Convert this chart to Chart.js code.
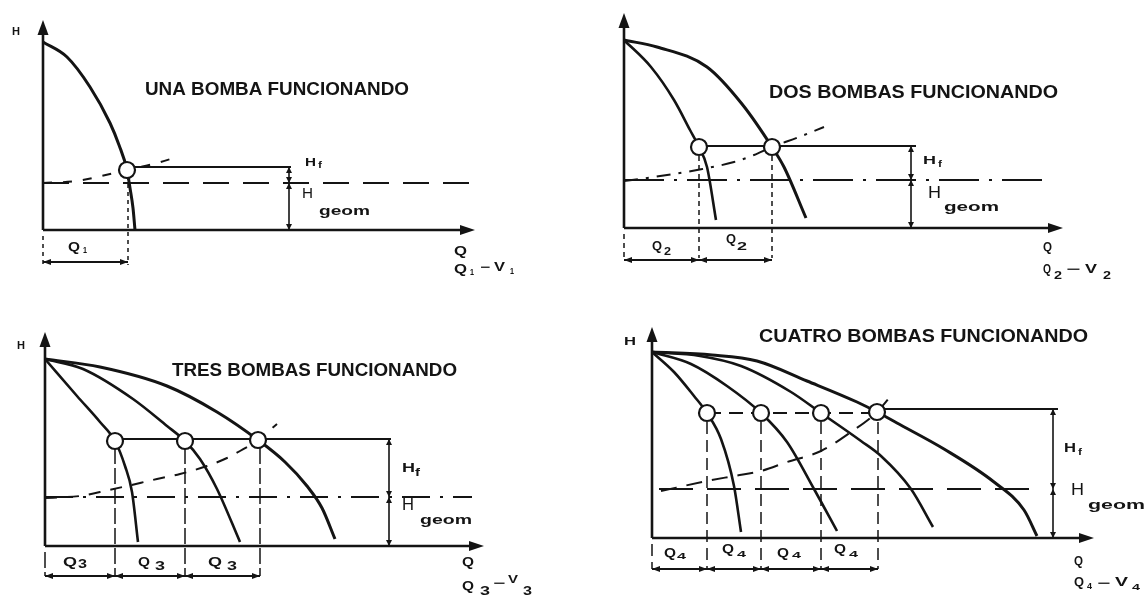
<!DOCTYPE html>
<html><head><meta charset="utf-8">
<script src="https://cdn.jsdelivr.net/npm/chart.js@4/dist/chart.umd.min.js"></script>
<style>
html,body{margin:0;padding:0;background:#fff}
body{width:1148px;height:598px;position:relative;overflow:hidden}
canvas{position:absolute}
</style></head><body>
<canvas id="c1" width="574" height="299" style="left:0;top:0"></canvas>
<canvas id="c2" width="574" height="299" style="left:574px;top:0"></canvas>
<canvas id="c3" width="574" height="299" style="left:0;top:299px"></canvas>
<canvas id="c4" width="574" height="299" style="left:574px;top:299px"></canvas>
<script>
// ---- data (Q, H), arbitrary units ----
const titles = ['UNA BOMBA FUNCIONANDO','DOS BOMBAS FUNCIONANDO','TRES BOMBAS FUNCIONANDO','CUATRO BOMBAS FUNCIONANDO'];

const p1Pump   = [{x:0,y:188},{x:24,y:173},{x:47,y:143},{x:67,y:107},{x:76,y:85},{x:84,y:60},{x:87,y:42},{x:90,y:22},{x:92,y:0}];
const p1System = [{x:0,y:47},{x:34,y:49},{x:54,y:53},{x:84,y:60},{x:114,y:67},{x:134,y:73}];
const p1Ops    = [{x:84,y:60}];
const p1Levels = [47, 63];          // H geom, H top (operating)
const p1QTicks = [0, 85];

const p2PumpA  = [{x:0,y:188},{x:27,y:161},{x:50,y:128},{x:66,y:98},{x:75,y:81},{x:83,y:61},{x:92,y:8}];
const p2PumpB  = [{x:0,y:188},{x:33,y:181},{x:83,y:161},{x:118,y:124},{x:148,y:81},{x:160,y:61},{x:182,y:10}];
const p2System = [{x:0,y:47},{x:30,y:51},{x:73,y:58},{x:110,y:66},{x:130,y:73},{x:148,y:81},{x:175,y:91},{x:200,y:101}];
const p2Ops    = [{x:75,y:81},{x:148,y:81}];
const p2Levels = [48, 82];
const p2QTicks = [0, 75, 148];

const p3PumpA  = [{x:0,y:187},{x:32,y:150},{x:55,y:124},{x:70,y:105},{x:80,y:80},{x:87,y:54},{x:93,y:4}];
const p3PumpB  = [{x:0,y:187},{x:38,y:177},{x:88,y:147},{x:122,y:120},{x:140,y:105},{x:155,y:87},{x:172,y:57},{x:195,y:4}];
const p3PumpC  = [{x:0,y:187},{x:55,y:179},{x:122,y:160},{x:172,y:134},{x:213,y:106},{x:240,y:84},{x:262,y:60},{x:277,y:38},{x:290,y:7}];
const p3System = [{x:0,y:48},{x:35,y:50},{x:55,y:54},{x:82,y:60},{x:112,y:67},{x:135,y:72},{x:162,y:80},{x:182,y:88},{x:195,y:95},{x:213,y:106},{x:232,y:122}];
const p3Ops    = [{x:70,y:105},{x:140,y:105},{x:213,y:106}];
const p3Levels = [49, 107];
const p3QTicks = [0, 70, 140, 215];

const p4PumpA  = [{x:0,y:186},{x:22,y:166},{x:42,y:142},{x:55,y:125},{x:69,y:99},{x:82,y:52},{x:89,y:6}];
const p4PumpB  = [{x:0,y:186},{x:39,y:174},{x:75,y:152},{x:109,y:125},{x:135,y:96},{x:162,y:49},{x:185,y:7}];
const p4PumpC  = [{x:0,y:186},{x:48,y:182},{x:89,y:172},{x:139,y:146},{x:169,y:125},{x:209,y:97},{x:229,y:82},{x:259,y:49},{x:281,y:11}];
const p4PumpD  = [{x:0,y:186},{x:60,y:183},{x:105,y:177},{x:155,y:157},{x:205,y:136},{x:225,y:126},{x:245,y:115},{x:292,y:89},{x:342,y:56},{x:372,y:28},{x:385,y:2}];
const p4System = [{x:9,y:47},{x:55,y:57},{x:82,y:62},{x:109,y:67},{x:135,y:76},{x:169,y:87},{x:199,y:106},{x:225,y:126},{x:242,y:146}];
const p4Ops    = [{x:55,y:125},{x:109,y:125},{x:169,y:125},{x:225,y:126}];
const p4Levels = [49, 129];
const p4QTicks = [0, 55, 109, 169, 226];

// ---- layout / styling ----
const INK = '#141414';
const panels = [
 { id:'c1', pad:{left:43,top:20,right:99,bottom:69}, xmax:432, ymax:210,
   pumps:[p1Pump], system:p1System, sysDash:[9,11], ops:p1Ops, levels:p1Levels, qticks:p1QTicks,
   geomSpan:[0,426], geomDash:[26,14], topSpan:[90,248], topDash:[], betweenDash:null,
   dimQ:246, dropTop:54, dropDash:[4,4], dimH:-32, tickBottom:-35,
   title:[titles[0],102,140,264],
   labels:[['H',-31,198,8,10,'bold'],['H',262,67,11,11,'bold'],['f',275,64,4,9,'bold'],
     ['H',259,36,11,15,'normal'],['geom',276,19,51,13,'bold'],
     ['Q',25,-17,12,13,'bold'],['1',40,-21,4,9,'bold'],
     ['Q',411,-21,13,13,'bold'],
     ['Q',411,-39,13,13,'bold'],['1',427,-43,4,9,'bold'],['−',437,-38,10,12,'bold'],['V',451,-38,11,12,'bold'],['1',467,-42,4,9,'bold']] },
 { id:'c2', pad:{left:50,top:13,right:85,bottom:71}, xmax:439, ymax:215,
   pumps:[p2PumpA,p2PumpB], system:p2System, sysDash:[14,8,3,8], ops:p2Ops, levels:p2Levels, qticks:p2QTicks,
   geomSpan:[0,425], geomDash:[40,10,3,10], topSpan:[75,292], topDash:[], betweenDash:null,
   dimQ:287, dropTop:72, dropDash:[5,4], dimH:-32, tickBottom:-30,
   title:[titles[1],145,135,289],
   labels:[['H',299,67,13,11,'bold'],['f',314,63,4,9,'bold'],
     ['H',304,34,13,16,'normal'],['geom',320,20,55,12,'bold'],
     ['Q',28,-19,10,12,'bold'],['2',40,-24,7,11,'bold'],
     ['Q',102,-12,10,12,'bold'],['2',113,-19,10,11,'bold'],
     ['Q',419,-20,9,12,'bold'],
     ['Q',419,-42,8,12,'bold'],['2',430,-48,8,11,'bold'],['−',442,-42,14,12,'bold'],['V',461,-42,12,12,'bold'],['2',479,-48,8,11,'bold']] },
 { id:'c3', pad:{left:45,top:33,right:90,bottom:52}, xmax:439, ymax:214,
   pumps:[p3PumpA,p3PumpB,p3PumpC], system:p3System, sysDash:[12,10], ops:p3Ops, levels:p3Levels, qticks:p3QTicks,
   geomSpan:[0,427], geomDash:[28,10,3,10], topSpan:[70,346], topDash:[], betweenDash:null,
   dimQ:344, dropTop:98, dropDash:[16,4], dimH:-30, tickBottom:-30,
   title:[titles[2],127,175,285],
   labels:[['H',-28,200,8,10,'bold'],['H',357,78,13,13,'bold'],['f',370,73,5,10,'bold'],
     ['H',357,40,12,16,'normal'],['geom',375,25,52,12,'bold'],
     ['Q',18,-16,14,13,'bold'],['3',33,-19,9,12,'bold'],
     ['Q',93,-16,12,13,'bold'],['3',110,-21,10,12,'bold'],
     ['Q',163,-16,14,13,'bold'],['3',182,-21,10,12,'bold'],
     ['Q',417,-17,12,12,'bold'],
     ['Q',417,-40,12,13,'bold'],['3',435,-46,10,12,'bold'],['−',448,-38,12,12,'bold'],['V',463,-34,10,11,'bold'],['3',478,-46,9,12,'bold']] },
 { id:'c4', pad:{left:78,top:28,right:54,bottom:60}, xmax:442, ymax:211,
   pumps:[p4PumpA,p4PumpB,p4PumpC,p4PumpD], system:p4System, sysDash:[16,10], ops:p4Ops, levels:p4Levels, qticks:p4QTicks,
   geomSpan:[7,391], geomDash:[34,14], topSpan:[225,406], topDash:[], betweenDash:[14,8],
   dimQ:401, dropTop:116, dropDash:[12,6], dimH:-31, tickBottom:-31,
   title:[titles[3],107,201,329],
   labels:[['H',-28,196,12,11,'bold'],['H',412,89,12,12,'bold'],['f',426,85,4,9,'bold'],
     ['H',419,47,13,16,'normal'],['geom',436,33,57,13,'bold'],
     ['Q',12,-15,12,13,'bold'],['4',25,-19,9,9,'bold'],
     ['Q',70,-11,12,13,'bold'],['4',85,-17,9,9,'bold'],
     ['Q',125,-15,12,13,'bold'],['4',140,-18,9,9,'bold'],
     ['Q',182,-11,12,13,'bold'],['4',197,-17,9,9,'bold'],
     ['Q',422,-24,9,12,'bold'],
     ['Q',422,-45,10,12,'bold'],['4',435,-49,5,9,'bold'],['−',445,-46,13,12,'bold'],['V',463,-45,13,12,'bold'],['4',480,-50,8,9,'bold']] }
];

function line(data, w, dash, extra){
  return Object.assign({type:'line', data, borderColor:INK, borderWidth:w, borderDash:dash||[],
    pointRadius:0, pointHoverRadius:0, fill:false, clip:false, order:2, tension:0}, extra||{});
}

function tri(ctx, x, y, dir, len, half){
  ctx.beginPath();
  if(dir==='up'){ctx.moveTo(x,y);ctx.lineTo(x-half,y+len);ctx.lineTo(x+half,y+len);}
  if(dir==='down'){ctx.moveTo(x,y);ctx.lineTo(x-half,y-len);ctx.lineTo(x+half,y-len);}
  if(dir==='right'){ctx.moveTo(x,y);ctx.lineTo(x-len,y-half);ctx.lineTo(x-len,y+half);}
  if(dir==='left'){ctx.moveTo(x,y);ctx.lineTo(x+len,y-half);ctx.lineTo(x+len,y+half);}
  ctx.closePath(); ctx.fill();
}

function drawFit(ctx, t, x, y, w, size, weight){
  ctx.font = weight+' '+size+'px "Liberation Sans", Arial, sans-serif';
  const m = ctx.measureText(t).width || 1;
  ctx.save(); ctx.translate(x,y); ctx.scale(w/m,1);
  ctx.textBaseline='middle'; ctx.textAlign='left'; ctx.fillText(t,0,0); ctx.restore();
}

function makePlugin(p){
  return {
    id:'diagram',
    beforeDatasetsDraw(chart){
      const ctx=chart.ctx, a=chart.chartArea;
      ctx.save(); ctx.strokeStyle=INK; ctx.lineWidth=2.6; ctx.lineCap='butt';
      ctx.beginPath(); ctx.moveTo(a.left, a.bottom); ctx.lineTo(a.left, a.top+10);
      ctx.moveTo(a.left, a.bottom); ctx.lineTo(a.right-10, a.bottom); ctx.stroke();
      ctx.restore();
    },
    afterDatasetsDraw(chart){
      const ctx=chart.ctx, a=chart.chartArea, xs=chart.scales.x, ys=chart.scales.y;
      const X=v=>xs.getPixelForValue(v), Y=v=>ys.getPixelForValue(v);
      ctx.save(); ctx.fillStyle=INK;
      tri(ctx, a.left, a.top, 'up', 15, 5.5);
      tri(ctx, a.right, a.bottom, 'right', 15, 5);
      const stops=[0].concat(p.levels);
      for(let i=0;i<stops.length-1;i++){
        const y0=Y(stops[i]), y1=Y(stops[i+1]);
        tri(ctx, X(p.dimQ), y0, 'down', 6, 3);
        tri(ctx, X(p.dimQ), y1, 'up', 6, 3);
      }
      for(let i=0;i<p.qticks.length-1;i++){
        tri(ctx, X(p.qticks[i]), Y(p.dimH), 'left', 8, 3);
        tri(ctx, X(p.qticks[i+1]), Y(p.dimH), 'right', 8, 3);
      }
      p.labels.forEach(l=>drawFit(ctx, l[0], X(l[1]), Y(l[2]), l[3], l[4], l[5]));
      const t=p.title; drawFit(ctx, t[0], X(t[1]), Y(t[2]), t[3], 18, 'bold');
      ctx.restore();
    }
  };
}

panels.forEach(p=>{
  const ds=[];
  ds.push({type:'scatter', data:p.ops, pointRadius:8, pointHoverRadius:8, pointBackgroundColor:'#fff',
    pointBorderColor:INK, pointBorderWidth:2.2, showLine:false, clip:false, order:0});
  p.pumps.forEach((c,i)=>ds.push(line(c, i===p.pumps.length-1?3:2.6, [], {cubicInterpolationMode:'monotone'})));
  ds.push(line(p.system, 2, p.sysDash, {cubicInterpolationMode:'monotone'}));
  const g=p.levels[0], top=p.levels[1];
  ds.push(line([{x:p.geomSpan[0],y:g},{x:p.geomSpan[1],y:g}], 2.2, p.geomDash));
  ds.push(line([{x:p.topSpan[0],y:top},{x:p.topSpan[1],y:top}], 1.8, p.topDash));
  if(p.betweenDash){
    const o=p.ops; ds.push(line([{x:o[0].x,y:o[0].y},{x:o[o.length-1].x,y:o[0].y}], 1.8, p.betweenDash));
  }
  ds.push(line([{x:p.dimQ,y:0},{x:p.dimQ,y:top}], 1.6, []));
  p.qticks.forEach((q,i)=>{
    const from = i===0 ? -6 : p.dropTop;
    ds.push(line([{x:q,y:from},{x:q,y:p.tickBottom}], 1.5, p.dropDash));
  });
  ds.push(line([{x:p.qticks[0],y:p.dimH},{x:p.qticks[p.qticks.length-1],y:p.dimH}], 1.8, []));
  new Chart(document.getElementById(p.id), {
    data:{datasets:ds},
    options:{responsive:false, animation:false, devicePixelRatio:1,
      layout:{padding:p.pad},
      plugins:{legend:{display:false}, tooltip:{enabled:false}, title:{display:false}},
      events:[],
      scales:{x:{type:'linear', display:false, min:0, max:p.xmax},
              y:{type:'linear', display:false, min:0, max:p.ymax}}},
    plugins:[makePlugin(p)]
  });
});
</script>
</body></html>
